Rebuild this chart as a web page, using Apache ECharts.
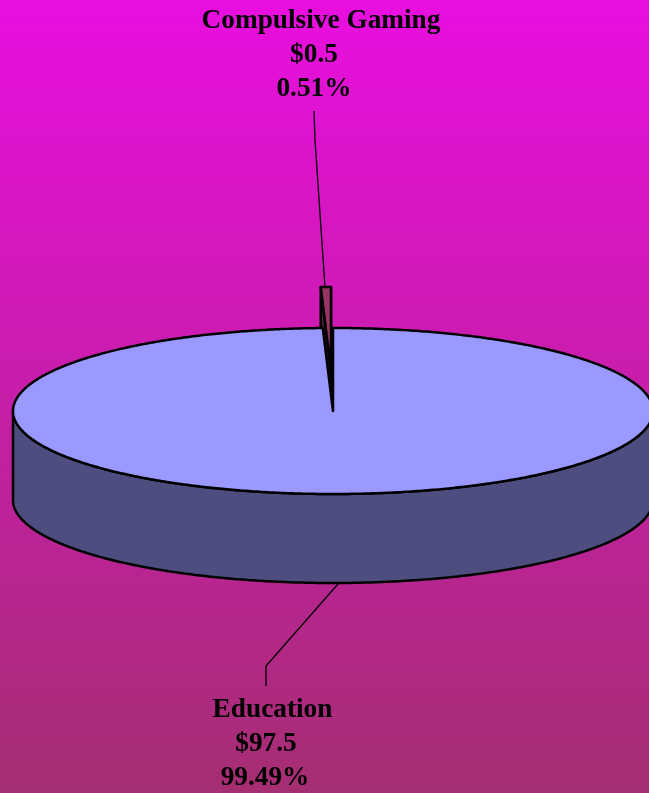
<!DOCTYPE html>
<html>
<head>
<meta charset="utf-8">
<style>html,body{margin:0;padding:0;width:649px;height:793px;overflow:hidden}#c{width:649px;height:793px}</style>
<script src="https://cdn.jsdelivr.net/npm/echarts@6/dist/echarts.min.js"></script>
</head>
<body>
<div id="c"></div>
<script>
// Data
var categories = ['Compulsive Gaming', 'Education'];
var amounts = [0.5, 97.5];
var amountLabels = ['$0.5', '$97.5'];
var percentLabels = ['0.51%', '99.49%'];

// Drawing styles and layout
var topColors = ['#993366', '#9999FF'];
var sideColors = ['#4D1A33', '#4D4D80'];
var CX = 333, CY = 411, RX = 320, RY = 83, DEPTH = 89;
var EXPLODE = [{dx: -2, dy: -41}, {dx: 0, dy: 0}];
var LEADERS = [
  [[314, 111], [315, 140], [325, 287]],
  [[338, 584], [266, 666], [266, 686]]
];
var LABELS = [
  [[321, 21], [314, 55], [314, 89]],
  [[272.5, 710], [266, 744], [265, 778]]
];

var total = amounts.reduce(function (a, b) { return a + b; }, 0);

function pt(deg, off, drop) {
  var t = deg * Math.PI / 180;
  return [CX + off.dx + RX * Math.sin(t), CY + off.dy + drop - RY * Math.cos(t)];
}
function arc(a0, a1, off, drop) {
  var n = Math.max(2, Math.ceil(Math.abs(a1 - a0) / 0.5)), r = [];
  for (var i = 0; i <= n; i++) r.push(pt(a0 + (a1 - a0) * i / n, off, drop));
  return r;
}
function poly(points, fill, z) {
  return {type: 'polygon', z2: z, shape: {points: points},
    style: {fill: fill, stroke: '#000', lineWidth: 2.5, lineJoin: 'round'}};
}

function renderItem(params, api) {
  var i = params.dataIndex;
  var value = api.value(0);
  var before = 0;
  for (var k = 0; k < i; k++) before += amounts[k];
  // The first slice ends at twelve o'clock; the others follow clockwise.
  var a0 = (before - amounts[0]) / total * 360;
  var a1 = a0 + value / total * 360;
  var off = EXPLODE[i];
  var apex = [CX + off.dx, CY + off.dy];
  var apexLow = [apex[0], apex[1] + DEPTH];
  var children = [];

  if (i === 0) {
    // Pulled-out thin slice behind the main body.
    var pA = pt(a0, off, 0), pB = pt(a1, off, 0);
    children.push(poly([pA, apex, apexLow, pt(a0, off, DEPTH)], sideColors[i], 1));
    children.push(poly([pB, apex, apexLow, pt(a1, off, DEPTH)], sideColors[i], 1));
    children.push(poly([apex].concat(arc(a0, a1, off, 0)), topColors[i], 2));
  } else {
    // Cut face seen through the notch, outer wall, then top face.
    var wallTop = arc(90, 270, off, 0);
    var wallLow = arc(270, 90, off, DEPTH);
    var endTop = pt(a1, off, 0);
    children.push(poly([endTop, apex, apexLow, pt(a1, off, DEPTH)], sideColors[i], 3));
    children.push(poly(wallTop.concat(wallLow), sideColors[i], 4));
    children.push(poly([apex].concat(arc(a0, a1, off, 0)), topColors[i], 5));
  }

  children.push({type: 'polyline', z2: 6, shape: {points: LEADERS[i]},
    style: {fill: null, stroke: '#000', lineWidth: 1.3}});

  [categories[i], amountLabels[i], percentLabels[i]].forEach(function (txt, j) {
    children.push({type: 'text', z2: 7, x: LABELS[i][j][0], y: LABELS[i][j][1],
      style: {text: txt, fill: '#000', align: 'center', verticalAlign: 'middle',
        font: 'bold 27.3px "Liberation Serif"'}});
  });
  return {type: 'group', children: children};
}

var chart = echarts.init(document.getElementById('c'), null, {renderer: 'canvas'});
chart.setOption({
  animation: false,
  backgroundColor: {type: 'linear', x: 0, y: 0, x2: 0, y2: 1,
    colorStops: [{offset: 0, color: '#E90EE0'}, {offset: 1, color: '#A52E72'}]},
  series: [{
    type: 'custom',
    coordinateSystem: 'none',
    silent: true,
    clip: false,
    renderItem: renderItem,
    data: categories.map(function (c, i) { return {name: c, value: [amounts[i]]}; })
  }]
});
</script>
</body>
</html>
